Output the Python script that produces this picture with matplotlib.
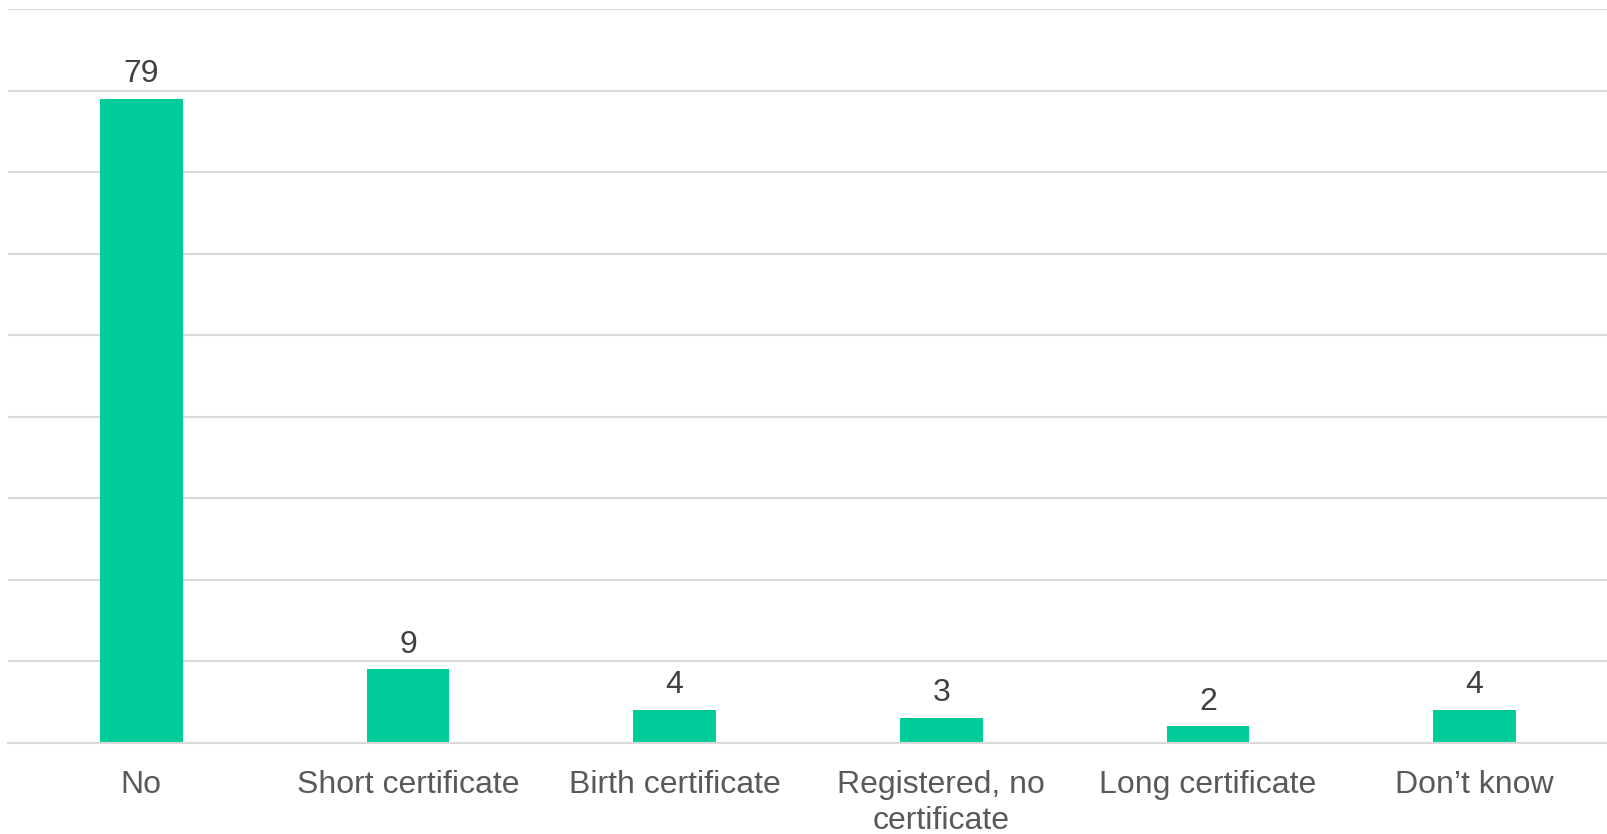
import numpy as np
from matplotlib import pyplot as plt

# Data
categories = ["No", "Short certificate", "Birth certificate",
              "Registered, no\ncertificate", "Long certificate", "Don\u2019t know"]
values = [79, 9, 4, 3, 2, 4]

bar_color = "#00CC99"
grid_color = "#D9D9D9"

plt.rcParams['font.family'] = ['Liberation Sans', 'DejaVu Sans']

fig = plt.figure(figsize=(16.08, 8.34), dpi=100)
ax = fig.add_axes([8 / 1608, (834 - 742.5) / 834, 1600 / 1608, (742.5 - 9.2) / 834])

x = np.arange(len(categories))
bars = ax.bar(x, values, width=0.31, color=bar_color, zorder=2)

# value labels above bars
for xi, v in zip(x, values):
    ax.annotate(str(v), (xi, v), xytext=(0, 12), textcoords="offset points",
                ha="center", va="baseline", fontsize=23, color="#404040")

ax.set_xlim(-0.5, len(categories) - 0.5)
ax.set_ylim(0, 90)
ax.set_yticks(np.arange(0, 91, 10))
ax.yaxis.grid(True, color=grid_color, linewidth=1.5, zorder=0)
ax.tick_params(axis="y", left=False, labelleft=False)
ax.set_xticks(x)
ax.set_xticklabels(categories, fontsize=23, color="#595959", linespacing=1.3)
ax.tick_params(axis="x", length=0, pad=19.5)

for s in ["top", "right", "left"]:
    ax.spines[s].set_visible(False)
ax.spines["bottom"].set_color(grid_color)
ax.spines["bottom"].set_linewidth(1.5)

fig.savefig("out.png", dpi=100)
